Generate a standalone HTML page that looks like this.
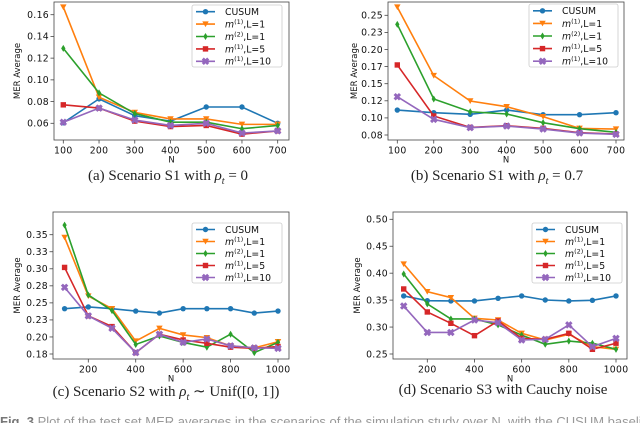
<!DOCTYPE html>
<html><head><meta charset="utf-8">
<style>
html,body{margin:0;padding:0;background:#fff;width:640px;height:423px;overflow:hidden;position:relative}
svg{position:absolute;left:0;top:0}
.cap{position:absolute;font-family:"Liberation Serif",serif;font-size:15px;color:#222;white-space:nowrap;transform:translateX(-50%)}
#figcap{position:absolute;left:0;top:414px;font-family:"Liberation Sans",sans-serif;font-size:13px;color:#999;white-space:nowrap}
</style></head><body>
<svg id="chart" width="640" height="423"></svg>
<div class="cap" style="left:168px;top:168px">(a) Scenario S1 with <i>ρ<sub style="font-size:10px">t</sub></i> = 0</div>
<div class="cap" style="left:497px;top:168px">(b) Scenario S1 with <i>ρ<sub style="font-size:10px">t</sub></i> = 0.7</div>
<div class="cap" style="left:166px;top:382px">(c) Scenario S2 with <i>ρ<sub style="font-size:10px">t</sub></i> ∼ Unif([0, 1])</div>
<div class="cap" style="left:503px;top:382px">(d) Scenario S3 with Cauchy noise</div>
<div id="figcap"><b style="color:#777">Fig. 3</b> Plot of the test set MER averages in the scenarios of the simulation study over N, with the CUSUM baseline</div>
<script>
const seriesNames=["CUSUM","m(1),L=1","m(2),L=1","m(1),L=5","m(1),L=10"];
const colors=["#1f77b4","#ff7f0e","#2ca02c","#d62728","#9467bd"];
const markers=["o","v","d","s","x"];
const nA=[100,200,300,400,500,600,700];
const nC=[100,200,300,400,500,600,700,800,900,1000];
const aCusum=[0.0605,0.0825,0.067,0.062,0.075,0.075,0.060];
const aM1L1=[0.167,0.084,0.070,0.064,0.064,0.059,0.059];
const aM2L1=[0.129,0.088,0.069,0.061,0.061,0.055,0.058];
const aM1L5=[0.077,0.074,0.062,0.057,0.058,0.050,0.053];
const aM1L10=[0.061,0.074,0.063,0.058,0.060,0.051,0.053];
const bCusum=[0.1115,0.1076,0.1052,0.1115,0.1047,0.1047,0.1076];
const bM1L1=[0.262,0.1618,0.1247,0.1164,0.1018,0.0847,0.0837];
const bM2L1=[0.2368,0.1276,0.109,0.1057,0.093,0.0842,0.0789];
const bM1L5=[0.1774,0.1028,0.0861,0.0886,0.0847,0.0784,0.0764];
const bM1L10=[0.131,0.0979,0.0857,0.0881,0.0837,0.0779,0.076];
const cCusum=[0.2415,0.244,0.2415,0.238,0.235,0.2415,0.2415,0.2415,0.235,0.238];
const cM1L1=[0.346,0.260,0.2415,0.194,0.2127,0.203,0.199,0.187,0.184,0.193];
const cM2L1=[0.364,0.2616,0.2386,0.189,0.2014,0.192,0.185,0.204,0.177,0.192];
const cM1L5=[0.302,0.231,0.2152,0.177,0.2039,0.1956,0.1907,0.185,0.1833,0.186];
const cM1L10=[0.2728,0.231,0.2127,0.177,0.2039,0.192,0.197,0.187,0.184,0.1833];
const dCusum=[0.3577,0.349,0.3484,0.3484,0.3533,0.3577,0.3502,0.3484,0.3496,0.3577];
const dM1L1=[0.417,0.3657,0.3546,0.3162,0.3131,0.2884,0.276,0.2865,0.2636,0.2587];
const dM2L1=[0.3985,0.343,0.315,0.315,0.304,0.285,0.268,0.274,0.270,0.2587];
const dM1L5=[0.3707,0.328,0.307,0.284,0.3113,0.279,0.2772,0.2884,0.2587,0.270];
const dM1L10=[0.339,0.290,0.290,0.3131,0.308,0.276,0.2772,0.304,0.2636,0.279];
const aYTicks=[0.06,0.08,0.10,0.12,0.14,0.16];
const aYLabels=["0.06","0.08","0.10","0.12","0.14","0.16"];
const bYTicks=[0.075,0.1,0.125,0.15,0.175,0.2,0.225,0.25];
const bYLabels=["0.08","0.10","0.12","0.15","0.17","0.20","0.23","0.25"];
const cYTicks=[0.175,0.2,0.225,0.25,0.275,0.3,0.325,0.35];
const cYLabels=["0.18","0.20","0.23","0.25","0.28","0.30","0.33","0.35"];
const dYTicks=[0.25,0.3,0.35,0.4,0.45,0.5];
const dYLabels=["0.25","0.30","0.35","0.40","0.45","0.50"];
const abXTicks=[100,200,300,400,500,600,700];
const cdXTicks=[200,400,600,800,1000];

const NS="http://www.w3.org/2000/svg";
const svg=document.getElementById("chart");
function mk(tag,attrs,parent){const e=document.createElementNS(NS,tag);for(const k in attrs)e.setAttribute(k,attrs[k]);(parent||svg).appendChild(e);return e;}

const panels=[
 {id:"a",box:[54,2,289,140],x0:[100,63.3],x1:[700,277.7],y0:[0.06,123.3],y1:[0.16,14.7],xs:nA,series:[aCusum,aM1L1,aM2L1,aM1L5,aM1L10],yt:aYTicks,yl:aYLabels,xt:abXTicks,ylab:20,leg:[192,5,282,67]},
 {id:"b",box:[388,2,624,140],x0:[100,397.3],x1:[700,616],y0:[0.075,135],y1:[0.25,15.3],xs:nA,series:[bCusum,bM1L1,bM2L1,bM1L5,bM1L10],yt:bYTicks,yl:bYLabels,xt:abXTicks,ylab:357,leg:[529,4,618,67]},
 {id:"c",box:[53,212,289,359],x0:[200,88.3],x1:[1000,278],y0:[0.175,354],y1:[0.35,234.7],xs:nC,series:[cCusum,cM1L1,cM2L1,cM1L5,cM1L10],yt:cYTicks,yl:cYLabels,xt:cdXTicks,ylab:20,leg:[192,223,282,283]},
 {id:"d",box:[393,212,627,359],x0:[200,427.3],x1:[1000,616],y0:[0.25,354],y1:[0.5,219.3],xs:nC,series:[dCusum,dM1L1,dM2L1,dM1L5,dM1L10],yt:dYTicks,yl:dYLabels,xt:cdXTicks,ylab:360,leg:[532,223,622,283]}
];

function marker(g,t,x,y,c,s){
  let e;
  if(t==="o")e=mk("circle",{cx:x,cy:y,r:s},g);
  else if(t==="v")e=mk("polygon",{points:`${x-s*1.2},${y-s} ${x+s*1.2},${y-s} ${x},${y+s*1.1}`},g);
  else if(t==="d")e=mk("polygon",{points:`${x},${y-s*1.3} ${x+s*0.8},${y} ${x},${y+s*1.3} ${x-s*0.8},${y}`},g);
  else if(t==="s")e=mk("rect",{x:x-s,y:y-s,width:2*s,height:2*s},g);
  else e=mk("path",{d:`M${x-s},${y-s}L${x+s},${y+s}M${x+s},${y-s}L${x-s},${y+s}`,stroke:c,"stroke-width":s*1.1,fill:"none"},g);
  if(t!=="x")e.setAttribute("fill",c);
  return e;
}

panels.forEach(p=>{
  const sx=v=>p.x0[1]+(v-p.x0[0])*(p.x1[1]-p.x0[1])/(p.x1[0]-p.x0[0]);
  const sy=v=>p.y0[1]+(v-p.y0[0])*(p.y1[1]-p.y0[1])/(p.y1[0]-p.y0[0]);
  const g=mk("g",{});
  
  
  const [L,T,R,B]=p.box;
  const ax=mk("rect",{x:L,y:T,width:R-L,height:B-T,fill:"none",stroke:"#444","stroke-width":0.8},g);
  
  
  p.yt.forEach((v,i)=>{
    const y=sy(v);
    mk("line",{x1:L-3.5,x2:L,y1:y,y2:y,stroke:"#444","stroke-width":0.8},g);
    const t=mk("text",{x:L-5,y:y+3.3,"text-anchor":"end","font-family":"DejaVu Sans, sans-serif","font-size":9.3,fill:"#111","letter-spacing":0.3},g);
    t.textContent=p.yl[i];
    
    
  });
  p.xt.forEach(v=>{
    const x=sx(v);
    mk("line",{x1:x,x2:x,y1:B,y2:B+3.5,stroke:"#444","stroke-width":0.8},g);
    const t=mk("text",{x:x,y:B+13.5,"text-anchor":"middle","font-family":"DejaVu Sans, sans-serif","font-size":9.3,fill:"#111","letter-spacing":0.3},g);
    t.textContent=v;
    
    
  });
  const xl=mk("text",{x:(L+R)/2,y:B+22.5,"text-anchor":"middle","font-family":"DejaVu Sans, sans-serif","font-size":8.5,fill:"#111"},g);
  xl.textContent="N";
  
  
  const yc=(T+B)/2;
  const yl=mk("text",{x:p.ylab,y:yc,"text-anchor":"middle","font-family":"DejaVu Sans, sans-serif","font-size":8.5,fill:"#111",transform:`rotate(-90 ${p.ylab} ${yc})`},g);
  yl.textContent="MER Average";
  
  
  p.series.forEach((vals,si)=>{
    const sg=mk("g",{},g);
    
    
    const pts=vals.map((v,i)=>sx(p.xs[i])+","+sy(v)).join(" ");
    mk("polyline",{points:pts,fill:"none",stroke:colors[si],"stroke-width":1.6},sg);
    vals.forEach((v,i)=>{
      const m=marker(sg,markers[si],sx(p.xs[i]),sy(v),colors[si],2.7);
      
      
    });
  });
  const [lx0,ly0,lx1,ly1]=p.leg;
  const lg=mk("g",{},g);
  
  
  mk("rect",{x:lx0,y:ly0,width:lx1-lx0,height:ly1-ly0,fill:"#fff","fill-opacity":0.85,stroke:"#ccc","stroke-width":0.8,rx:2},lg);
  const step=(ly1-ly0)/5;
  seriesNames.forEach((nm,si)=>{
    const y=ly0+step*(si+0.5)+0.5;
    const eg=mk("g",{},lg);
    
    
    mk("line",{x1:lx0+4,x2:lx0+23,y1:y,y2:y,stroke:colors[si],"stroke-width":1.6},eg);
    marker(eg,markers[si],lx0+13.5,y,colors[si],2.7);
    const t=mk("text",{x:lx0+33,y:y+3.4,"font-family":"DejaVu Sans, sans-serif","font-size":9.3,fill:"#111"},eg);
    if(si===0)t.textContent="CUSUM";
    else{
      const parts=nm.match(/m\((\d)\),(.*)/);
      const a=mk("tspan",{"font-style":"italic"},t);a.textContent="m";
      const b=mk("tspan",{dy:-3.5,"font-size":6.5},t);b.textContent="("+parts[1]+")";
      const c=mk("tspan",{dy:3.5},t);c.textContent=","+parts[2];
    }
  });
});
</script>
</body></html>
